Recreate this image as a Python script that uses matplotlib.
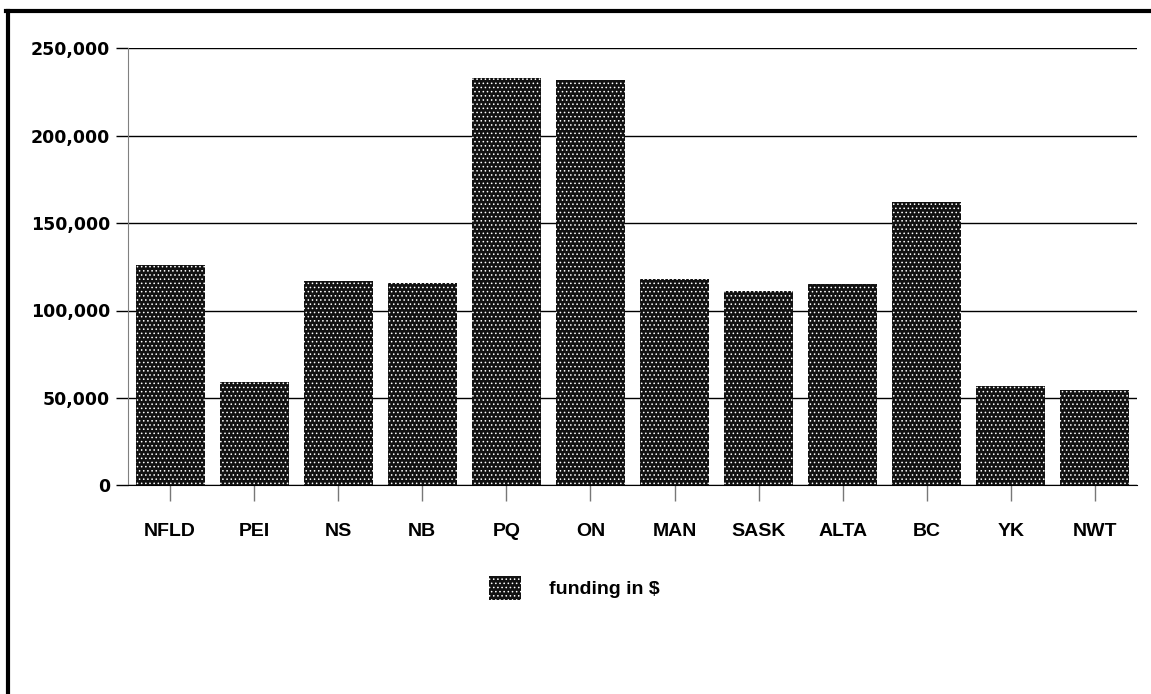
import matplotlib.pyplot as plt
from matplotlib.lines import Line2D

provinces = ["NFLD", "PEI", "NS", "NB", "PQ", "ON", "MAN", "SASK", "ALTA", "BC", "YK", "NWT"]
funding = [126000, 59000, 117000, 116000, 233000, 232000, 118000, 111000, 115000, 162000, 57000, 54500]
yticks = [0, 50000, 100000, 150000, 200000, 250000]
ytick_labels = ["0", "50,000", "100,000", "150,000", "200,000", "250,000"]

plt.rcParams["font.family"] = ["Liberation Sans", "DejaVu Sans"]
plt.rcParams["hatch.linewidth"] = 0.6

W, H = 1151, 694
fig = plt.figure(figsize=(W / 100, H / 100), dpi=100)
ax = fig.add_axes([128 / W, 1 - 485.3 / H, (1137 - 128) / W, (485.3 - 48.3) / H])

x = range(len(provinces))
# dark fill with a white dot screen
bars = ax.bar(x, funding, width=0.82, facecolor="#111111", edgecolor="white",
              linewidth=0, hatch="....", label="funding in $", zorder=3)

ax.set_xlim(-0.5, len(provinces) - 0.5)
ax.set_ylim(0, 250000)
ax.set_yticks(yticks)
ax.set_yticklabels(ytick_labels, fontsize=12.5, fontweight="bold", family="DejaVu Sans")
ax.set_xticks(list(x))
ax.set_xticklabels(provinces, fontsize=14, fontweight="bold")

ax.grid(axis="y", color="black", linewidth=1, zorder=1)
ax.tick_params(axis="y", length=8.6, width=1, color="black", pad=4.3)
ax.tick_params(axis="x", length=11.5, width=1, color="#777777", pad=16)

for side in ["top", "right"]:
    ax.spines[side].set_visible(False)
ax.spines["left"].set_color("#808080")
ax.spines["bottom"].set_color("black")

ax.legend(loc="center", bbox_to_anchor=(574 / W, 1 - 588 / H), bbox_transform=fig.transFigure,
          frameon=False, handlelength=1.65, handleheight=1.6,
          handletextpad=1.45, prop={"weight": "bold", "size": 14})

# border along the top and left of the figure
fig.add_artist(Line2D([8 / W, 8 / W], [0, 1 - 11 / H], color="black", linewidth=3,
                      transform=fig.transFigure))
fig.add_artist(Line2D([6 / W, 1], [1 - 11 / H, 1 - 11 / H], color="black", linewidth=3,
                      transform=fig.transFigure))

fig.savefig("out.png", dpi=100)
